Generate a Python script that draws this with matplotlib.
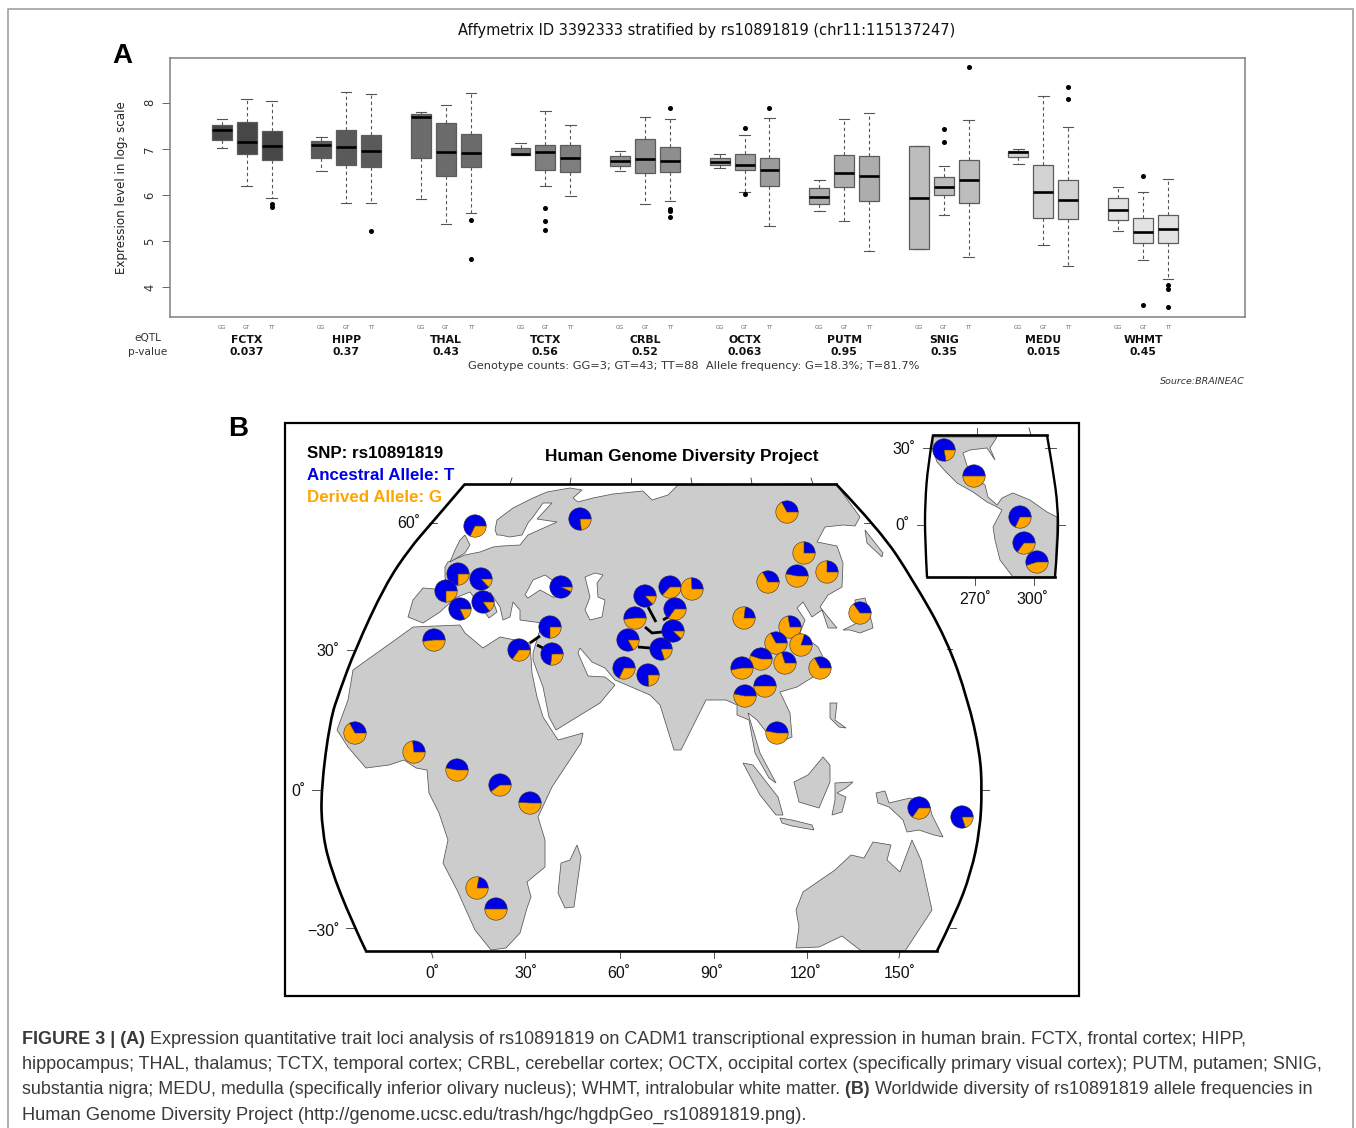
"""Brain eQTL box plots and HGDP allele frequency map for rs10891819."""

import matplotlib

matplotlib.use("Agg")

import matplotlib.pyplot as plt
from matplotlib.patches import PathPatch, Polygon, Rectangle
from matplotlib.path import Path

# ---- panel A values
regions = ["FCTX", "HIPP", "THAL", "TCTX", "CRBL", "OCTX", "PUTM", "SNIG", "MEDU", "WHMT"]
pvalues = ["0.037", "0.37", "0.43", "0.56", "0.52", "0.063", "0.95", "0.35", "0.015", "0.45"]
genotypes = ["GG", "GT", "TT"]
region_greys = ["#474747", "#5a5a5a", "#6c6c6c", "#7e7e7e", "#8e8e8e",
                "#9c9c9c", "#adadad", "#bdbdbd", "#d3d3d3", "#e3e3e3"]

whisker_hi = [7.65, 8.09, 8.04, 7.26, 8.24, 8.19, 7.80, 7.94, 8.21, 7.12, 7.83, 7.51, 6.96, 7.70, 7.65,
              6.89, 7.30, 7.67, 6.33, 7.64, 7.78, 7.07, 6.62, 7.62, 6.99, 8.14, 7.47, 6.18, 6.07, 6.34]
q3 = [7.52, 7.58, 7.39, 7.17, 7.41, 7.30, 7.75, 7.56, 7.33, 7.01, 7.09, 7.09, 6.84, 7.22, 7.03,
      6.80, 6.88, 6.80, 6.16, 6.86, 6.84, 7.07, 6.38, 6.75, 6.96, 6.65, 6.33, 5.93, 5.49, 5.57]
medians = [7.41, 7.15, 7.05, 7.09, 7.04, 6.95, 7.70, 6.93, 6.91, 6.89, 6.92, 6.81, 6.74, 6.77, 6.74,
           6.71, 6.65, 6.55, 5.96, 6.48, 6.41, 5.94, 6.17, 6.33, 6.93, 6.06, 5.88, 5.67, 5.20, 5.25]
q1 = [7.20, 6.88, 6.75, 6.80, 6.64, 6.61, 6.80, 6.40, 6.61, 6.86, 6.54, 6.50, 6.62, 6.48, 6.50,
      6.65, 6.53, 6.19, 5.80, 6.17, 5.87, 4.82, 5.99, 5.83, 6.83, 5.49, 5.47, 5.45, 4.96, 4.96]
whisker_lo = [7.02, 6.19, 5.94, 6.52, 5.82, 5.83, 5.91, 5.36, 5.60, 6.86, 6.20, 5.98, 6.51, 5.80, 5.87,
              6.59, 6.07, 5.32, 5.64, 5.43, 4.78, 4.82, 5.57, 4.65, 6.67, 4.91, 4.45, 5.22, 4.59, 4.17]
outliers = [[], [], [5.80, 5.73], [], [], [5.22], [], [], [5.45, 4.61], [], [5.72, 5.43, 5.24], [],
            [], [], [7.88, 5.70, 5.66, 5.53], [], [7.45, 6.01], [7.88], [], [], [], [],
            [7.42, 7.14], [8.77], [], [], [8.34, 8.09], [], [6.42, 3.62], [4.05, 3.96, 3.56]]

# ---- panel B values, map positions are pixels of the page
pop_centers = [(475, 526), (580, 519), (458, 574), (481, 579), (446, 591), (483, 602), (460, 609),
               (561, 587), (434, 640), (550, 627), (519, 650), (552, 654),
               (645, 596), (670, 587), (692, 589), (675, 609), (635, 618), (673, 631), (628, 640),
               (661, 649), (624, 668), (648, 675),
               (787, 512), (804, 553), (797, 576), (827, 572), (768, 582), (744, 618), (860, 613),
               (790, 627), (776, 643), (801, 645), (761, 659), (785, 663), (742, 668), (820, 668),
               (765, 686), (745, 696), (777, 733),
               (944, 450), (974, 476), (1020, 517), (1024, 543), (1037, 562),
               (355, 733), (414, 752), (457, 770), (500, 785), (530, 803), (477, 888), (496, 909),
               (919, 808), (962, 817)]
ancestral_t = [0.68, 0.77, 0.75, 0.87, 0.75, 0.85, 0.82,
               0.93, 0.52, 0.75, 0.65, 0.73,
               0.87, 0.63, 0.26, 0.65, 0.52, 0.88, 0.83,
               0.80, 0.68, 0.76,
               0.33, 0.25, 0.47, 0.25, 0.33, 0.23, 0.35,
               0.28, 0.33, 0.20, 0.45, 0.30, 0.53, 0.33,
               0.50, 0.47, 0.47,
               0.78, 0.50, 0.68, 0.65, 0.55,
               0.33, 0.27, 0.47, 0.60, 0.49, 0.22, 0.50,
               0.65, 0.80]
connectors = [[(540, 636), (530, 643)], [(537, 645), (543, 648)], [(648, 607), (656, 622)],
              [(663, 620), (668, 617)], [(645, 627), (652, 633), (662, 632)], [(638, 647), (650, 648)]]

eurasia = [(497, 535), (495, 530), (497, 520), (513, 508), (533, 498), (547, 492), (570, 488), (582, 490),
           (573, 498), (578, 502), (593, 498), (613, 494), (643, 491), (652, 500), (668, 495), (678, 485),
           (836, 484), (860, 517), (855, 526), (843, 525), (825, 527), (817, 542), (837, 546), (843, 563),
           (842, 587), (828, 595), (820, 607), (828, 617), (837, 628), (828, 628), (822, 610), (812, 617),
           (803, 602), (797, 608), (805, 620), (800, 633), (818, 647), (823, 657), (828, 668), (813, 677),
           (797, 687), (780, 692), (790, 713), (792, 737), (780, 742), (767, 733), (757, 720), (748, 713),
           (760, 753), (776, 783), (769, 778), (755, 753), (749, 720), (737, 715), (737, 705), (726, 700),
           (706, 700), (681, 750), (674, 750), (660, 705), (650, 695), (615, 680), (605, 668), (592, 662),
           (580, 648), (578, 653), (588, 676), (605, 677), (615, 685), (600, 703), (556, 730), (549, 717),
           (543, 687), (533, 660), (533, 653), (542, 623), (520, 620), (520, 610), (513, 602), (510, 617),
           (503, 620), (500, 607), (490, 592), (497, 612), (489, 618), (470, 592), (455, 598), (440, 612),
           (423, 623), (408, 617), (413, 600), (423, 588), (447, 590), (445, 577), (445, 567), (448, 562),
           (465, 555), (480, 552), (493, 547), (502, 546), (520, 545), (528, 535), (557, 522), (537, 519),
           (552, 503), (543, 503), (533, 517), (528, 523), (522, 535), (510, 537), (500, 535)]
africa = [(460, 625), (465, 633), (483, 648), (500, 637), (530, 643), (532, 673), (537, 697), (543, 717),
          (558, 740), (583, 733), (581, 743), (552, 787), (538, 817), (545, 840), (545, 867), (527, 882),
          (531, 897), (527, 908), (520, 933), (506, 948), (491, 950), (475, 930), (457, 890), (443, 863),
          (448, 840), (439, 813), (429, 793), (427, 770), (416, 768), (404, 760), (389, 765), (366, 768),
          (348, 747), (337, 730), (348, 700), (353, 670), (395, 640), (413, 627)]
britain = [(465, 535), (470, 545), (465, 553), (450, 562), (455, 550), (460, 540)]
madagascar = [(577, 845), (581, 857), (574, 907), (565, 908), (558, 893), (561, 863), (570, 860)]
sumatra = [(743, 763), (753, 765), (778, 797), (783, 815), (776, 815), (760, 795)]
java = [(780, 818), (792, 820), (812, 825), (814, 830), (792, 826), (782, 823)]
borneo = [(794, 782), (808, 775), (823, 757), (830, 765), (830, 782), (819, 808), (799, 802)]
sulawesi = [(835, 783), (853, 782), (846, 788), (837, 793), (846, 797), (842, 812), (832, 815), (835, 800)]
philippines = [(830, 703), (837, 703), (835, 720), (846, 728), (839, 727), (830, 718)]
japan = [(843, 630), (857, 623), (855, 600), (865, 598), (872, 623), (873, 628), (860, 633), (850, 630)]
sakhalin = [(865, 530), (883, 553), (882, 557), (867, 543)]
new_guinea = [(876, 793), (885, 791), (889, 803), (910, 798), (930, 807), (932, 815), (943, 837), (934, 835),
              (919, 830), (907, 832), (903, 820), (889, 807), (878, 803)]
australia = [(796, 910), (803, 892), (835, 870), (851, 855), (864, 858), (873, 842), (891, 845), (887, 860),
             (900, 872), (912, 840), (921, 860), (932, 910), (907, 948), (905, 951), (862, 951), (860, 950),
             (842, 936), (819, 947), (796, 948), (799, 927)]
americas = [(933, 437), (997, 437), (990, 448), (995, 460), (987, 448), (970, 450), (963, 453), (970, 475),
            (985, 485), (988, 497), (997, 505), (1002, 498), (1013, 493), (1030, 500), (1047, 512), (1057, 517),
            (1055, 577), (1013, 577), (1000, 560), (995, 540), (993, 527), (1002, 510), (997, 507), (987, 502),
            (973, 492), (957, 483), (947, 473), (937, 462), (933, 450)]
land = [eurasia, africa, britain, madagascar, sumatra, java, borneo, sulawesi, philippines, japan, sakhalin,
        new_guinea, australia, americas]
black_sea = [(525, 595), (533, 580), (545, 575), (552, 580), (563, 597), (553, 597), (540, 590), (528, 598)]
caspian = [(585, 577), (595, 573), (603, 575), (597, 583), (598, 597), (605, 600), (602, 617), (590, 620),
           (585, 610), (590, 597)]

map_left = [(465, 484), (430, 525), (410, 548), (385, 585), (355, 650), (340, 690), (330, 720), (321, 790),
            (322, 830), (330, 867), (352, 922), (366, 951)]
map_right = [(836, 484), (880, 530), (913, 580), (947, 640), (968, 700), (980, 753), (982, 790), (980, 830),
             (971, 873), (955, 915), (937, 951)]
map_straight = [[(465, 484), (836, 484)], [(366, 951), (937, 951)]]
inset_left = [(933, 435), (928, 465), (925, 503), (925, 540), (927, 577)]
inset_right = [(1047, 435), (1053, 470), (1058, 507), (1058, 540), (1055, 577)]
inset_straight = [[(933, 435), (1047, 435)], [(927, 577), (1055, 577)]]
map_ticks = [[(510, 484), (512, 478)], [(570, 484), (571, 478)], [(631, 484), (631, 478)], [(692, 484), (691, 478)],
             [(752, 484), (751, 478)], [(813, 484), (811, 478)],
             [(429, 523), (437, 523)], [(347, 650), (355, 650)], [(312, 790), (321, 790)], [(346, 928), (354, 928)],
             [(864, 523), (872, 523)], [(947, 649), (952, 649)], [(982, 790), (989, 790)], [(950, 928), (956, 928)],
             [(431, 951), (433, 958)], [(525, 951), (525, 958)], [(620, 951), (620, 958)], [(714, 951), (714, 958)],
             [(807, 951), (807, 958)], [(900, 951), (899, 958)],
             [(977, 428), (977, 435)], [(1029, 428), (1031, 435)], [(923, 448), (932, 448)], [(1045, 448), (1056, 448)],
             [(917, 525), (925, 525)], [(1058, 525), (1065, 525)], [(975, 577), (975, 585)], [(1034, 577), (1034, 585)]]
lat_labels = [("60\u02da", 409, 524), ("30\u02da", 328, 651), ("0\u02da", 298, 791), ("\u221230\u02da", 323, 931)]
lon_labels = [("0\u02da", 432), ("30\u02da", 526), ("60\u02da", 619), ("90\u02da", 712), ("120\u02da", 806), ("150\u02da", 900)]
inset_labels = [("30\u02da", 904, 450), ("0\u02da", 902, 526), ("270\u02da", 975, 599), ("300\u02da", 1032, 599)]

caption_lines = [
    [("FIGURE 3 | (A) ", True),
     ("Expression quantitative trait loci analysis of rs10891819 on CADM1 transcriptional "
      "expression in human brain. FCTX, frontal cortex; HIPP,", False)],
    [("hippocampus; THAL, thalamus; TCTX, temporal cortex; CRBL, cerebellar cortex; OCTX, occipital "
      "cortex (specifically primary visual cortex); PUTM, putamen; SNIG,", False)],
    [("substantia nigra; MEDU, medulla (specifically inferior olivary nucleus); WHMT, intralobular "
      "white matter. ", False), ("(B) ", True),
     ("Worldwide diversity of rs10891819 allele frequencies in", False)],
    [("Human Genome Diversity Project (http://genome.ucsc.edu/trash/hgc/hgdpGeo_rs10891819.png).", False)],
]
caption_sizes = [12.98, 13.0, 12.91, 13.18]


def smooth_edge(points):
    """Quadratic curve through the midpoints of a list of edge points."""
    verts = [points[0]]
    for (x0, y0), (x1, y1) in zip(points[1:-1], points[2:]):
        verts += [(x0, y0), ((x0 + x1) / 2, (y0 + y1) / 2)]
    verts[-1] = points[-1]
    codes = [Path.MOVETO] + [Path.CURVE3] * (len(verts) - 1)
    return Path(verts, codes)


W, H = 1356, 1128
fig = plt.figure(figsize=(W / 100, H / 100), dpi=100, facecolor="white")

# page axes in pixels: frame, map and caption
page = fig.add_axes([0, 0, 1, 1])
page.set_xlim(0, W)
page.set_ylim(H, 0)
page.axis("off")
page.plot([8, 8, 1353, 1353], [H, 9, 9, H], color="#a8a8a8", lw=1.3)

HELV = "Liberation Sans"
page.text(122, 56, "A", fontsize=20, fontweight="bold", family=HELV, ha="center", va="center")
page.text(238, 429, "B", fontsize=20, fontweight="bold", family=HELV, ha="center", va="center")

# panel A
ax = fig.add_axes([170 / W, 1 - 317 / H, 1075 / W, 259 / H])
n_boxes = len(medians)
positions = [1 + 4 * (i // 3) + i % 3 for i in range(n_boxes)]
stats = [{"whishi": whisker_hi[i], "q3": q3[i], "med": medians[i], "q1": q1[i],
          "whislo": whisker_lo[i], "fliers": outliers[i]} for i in range(n_boxes)]
arts = ax.bxp(stats, positions=positions, widths=0.8, patch_artist=True, capwidths=0.42,
              manage_ticks=False,
              medianprops={"color": "black", "lw": 1.9, "solid_capstyle": "butt"},
              whiskerprops={"color": "#555555", "lw": 0.8, "dashes": (3, 2.5)},
              capprops={"color": "#555555", "lw": 0.8},
              boxprops={"edgecolor": "#5c5c5c", "lw": 0.9},
              flierprops={"marker": "o", "markerfacecolor": "black", "markeredgecolor": "black", "markersize": 2.6})
for i, box in enumerate(arts["boxes"]):
    box.set_facecolor(region_greys[i // 3])
ax.set_xlim(-1.08, 42.1)
ax.set_ylim(3.35, 8.97)
ax.set_yticks([4, 5, 6, 7, 8])
ax.set_yticklabels(["4", "5", "6", "7", "8"], rotation=90, va="center", fontsize=8.4, color="#333333")
ax.tick_params(axis="y", length=6, width=0.7, color="#666666", pad=4)
ax.set_xticks(positions)
ax.set_xticklabels(genotypes * len(regions), fontsize=4, color="#666666")
ax.tick_params(axis="x", length=0, pad=6)
for side in ax.spines.values():
    side.set_color("#808080")
    side.set_linewidth(1.1)
ax.set_ylabel("Expression level in log\u2082 scale", fontsize=8.6, color="#222222", labelpad=11)

for i, (name, pv) in enumerate(zip(regions, pvalues)):
    gx = positions[3 * i + 1]
    ax.text(gx, 3.35 - 23 / 46, name, fontsize=7.8, fontweight="bold", ha="center", va="center", color="#111111", clip_on=False)
    ax.text(gx, 3.35 - 35 / 46, pv, fontsize=7.8, fontweight="bold", ha="center", va="center", color="#111111", clip_on=False)
page.text(148, 338, "eQTL", fontsize=7.6, ha="center", va="center", color="#333333")
page.text(148, 352, "p-value", fontsize=7.6, ha="center", va="center", color="#333333")
page.text(707, 31, "Affymetrix ID 3392333 stratified by rs10891819 (chr11:115137247)",
          fontsize=10.55, ha="center", va="center", color="#111111")
page.text(694, 366, "Genotype counts: GG=3; GT=43; TT=88  Allele frequency: G=18.3%; T=81.7%",
          fontsize=8.2, ha="center", va="center", color="#333333")
page.text(1245, 381, "Source:BRAINEAC", fontsize=6.8, style="italic", ha="right", va="center", color="#333333")

# panel B
page.add_patch(Rectangle((285, 423), 794, 573, fill=False, edgecolor="black", lw=1.6, zorder=6))
for outline in land:
    page.add_patch(Polygon(outline, closed=True, facecolor="#cccccc", edgecolor="#555555", lw=0.55, zorder=2))
for sea in (black_sea, caspian):
    page.add_patch(Polygon(sea, closed=True, facecolor="white", edgecolor="#555555", lw=0.55, zorder=2.1))
for edge in (map_left, map_right):
    page.add_patch(PathPatch(smooth_edge(edge), fill=False, edgecolor="black", lw=1.9, zorder=3))
for edge in (inset_left, inset_right):
    page.add_patch(PathPatch(smooth_edge(edge), fill=False, edgecolor="black", lw=1.7, zorder=3))
for edge in map_straight + inset_straight:
    xs, ys = zip(*edge)
    page.plot(xs, ys, color="black", lw=1.9, zorder=3, solid_capstyle="projecting")
for tick in map_ticks:
    xs, ys = zip(*tick)
    page.plot(xs, ys, color="#333333", lw=0.6, zorder=2.5)
for link in connectors:
    xs, ys = zip(*link)
    page.plot(xs, ys, color="black", lw=2.0, zorder=3.5, solid_capstyle="butt")

for (cx, cy), share in zip(pop_centers, ancestral_t):
    wedges, _ = page.pie([share, 1 - share], colors=["#0000e6", "#ffa500"], center=(cx, cy), radius=11.2,
                         startangle=0, counterclock=False, frame=True,
                         wedgeprops={"edgecolor": "#333333", "linewidth": 0.4})
    for wedge in wedges:
        wedge.set_zorder(4)
page.set_xlim(0, W)
page.set_ylim(H, 0)
page.set_xticks([])
page.set_yticks([])
page.axis("off")

page.text(307, 453, "SNP: rs10891819", fontsize=12.2, fontweight="bold", family=HELV, va="center")
page.text(307, 475, "Ancestral Allele: T", fontsize=12.2, fontweight="bold", family=HELV, va="center", color="#0000e6")
page.text(307, 497, "Derived Allele: G", fontsize=12.2, fontweight="bold", family=HELV, va="center", color="#ffa500")
page.text(682, 457, "Human Genome Diversity Project", fontsize=12.4, fontweight="bold", family=HELV, ha="center", va="center")

for label, lx, ly in lat_labels + inset_labels:
    page.text(lx, ly, label, fontsize=11.5, family=HELV, ha="center", va="center", color="#111111")
for label, lx in lon_labels:
    page.text(lx, 974, label, fontsize=11.5, family=HELV, ha="center", va="center", color="#111111")

# caption: runs of regular and bold text laid end to end
renderer = fig.canvas.get_renderer()
for row, runs in enumerate(caption_lines):
    cursor = 22.0
    baseline = 1044 + 25.2 * row
    for content, is_bold in runs:
        run = page.text(cursor, baseline, content, fontsize=caption_sizes[row], family=HELV, va="baseline",
                        color="#3a3a3a", fontweight="bold" if is_bold else "normal")
        cursor += run.get_window_extent(renderer).width

fig.savefig("out.png", dpi=100)
plt.close(fig)
